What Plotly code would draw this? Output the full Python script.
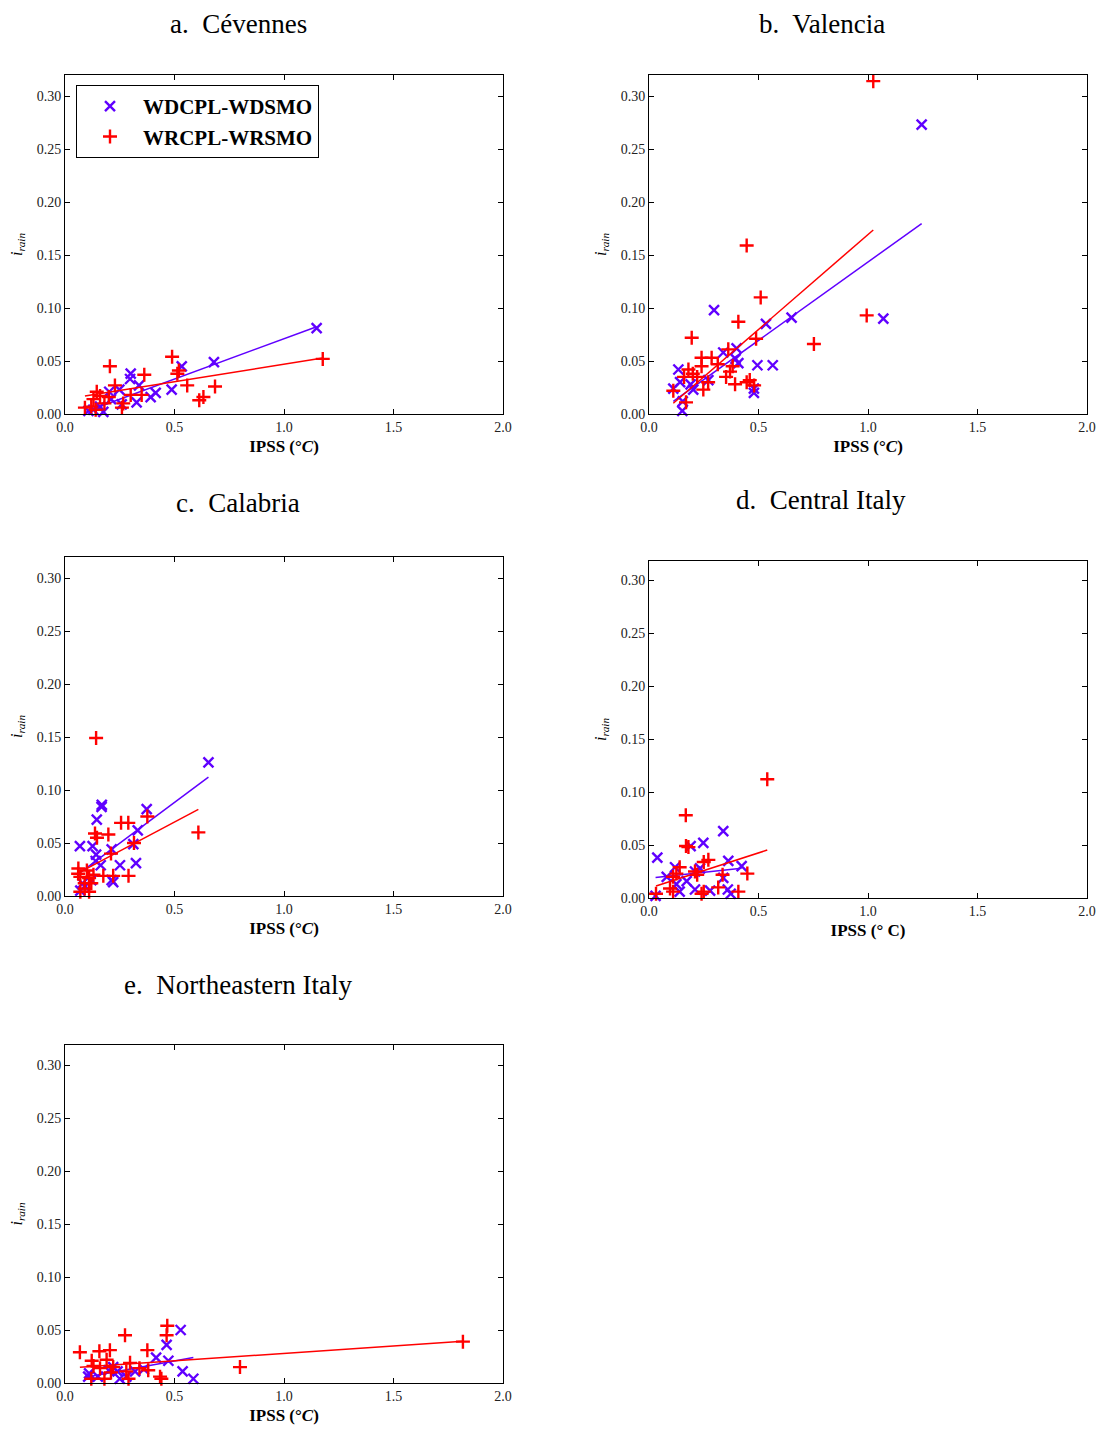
import plotly.graph_objects as go

# ---------------- data ----------------
panel_titles = ["a.  Cévennes", "b.  Valencia", "c.  Calabria", "d.  Central Italy", "e.  Northeastern Italy"]
xlabels = ["IPSS (°<i>C</i>)", "IPSS (°<i>C</i>)", "IPSS (°<i>C</i>)", "IPSS (° C)", "IPSS (°<i>C</i>)"]
series_names = ["WDCPL-WDSMO", "WRCPL-WRSMO"]
x_ticks = [0.0, 0.5, 1.0, 1.5, 2.0]
y_ticks = [0.00, 0.05, 0.10, 0.15, 0.20, 0.25, 0.30]

# a. Cevennes
a_blue_x = [1.149, 0.680, 0.533, 0.487, 0.414, 0.391, 0.338, 0.300, 0.297, 0.327, 0.248, 0.202, 0.160, 0.129, 0.175, 0.259, 0.210, 0.107]
a_blue_y = [0.081, 0.049, 0.045, 0.023, 0.020, 0.016, 0.027, 0.038, 0.033, 0.011, 0.023, 0.021, 0.007, 0.004, 0.002, 0.009, 0.014, 0.003]
a_red_x = [1.177, 0.489, 0.513, 0.520, 0.558, 0.685, 0.632, 0.613, 0.362, 0.205, 0.228, 0.350, 0.300, 0.266, 0.260, 0.145, 0.160, 0.130, 0.091, 0.120, 0.180, 0.200, 0.140]
a_red_y = [0.052, 0.054, 0.038, 0.041, 0.027, 0.026, 0.016, 0.013, 0.037, 0.045, 0.027, 0.018, 0.018, 0.010, 0.006, 0.021, 0.017, 0.014, 0.006, 0.007, 0.010, 0.016, 0.004]

# b. Valencia
b_blue_x = [1.245, 1.070, 0.651, 0.534, 0.297, 0.495, 0.565, 0.400, 0.339, 0.395, 0.408, 0.479, 0.479, 0.134, 0.142, 0.111, 0.202, 0.190, 0.271, 0.154, 0.152]
b_blue_y = [0.273, 0.090, 0.091, 0.085, 0.098, 0.046, 0.046, 0.062, 0.058, 0.052, 0.048, 0.024, 0.020, 0.042, 0.030, 0.024, 0.023, 0.028, 0.032, 0.012, 0.003]
b_red_x = [1.024, 0.446, 0.510, 0.408, 0.195, 0.489, 0.994, 0.753, 0.362, 0.240, 0.286, 0.314, 0.240, 0.382, 0.370, 0.352, 0.180, 0.200, 0.160, 0.220, 0.270, 0.393, 0.446, 0.460, 0.480, 0.248, 0.111, 0.169]
b_red_y = [0.314, 0.159, 0.110, 0.087, 0.072, 0.071, 0.093, 0.066, 0.061, 0.053, 0.053, 0.047, 0.045, 0.045, 0.040, 0.035, 0.042, 0.038, 0.035, 0.035, 0.030, 0.028, 0.030, 0.032, 0.027, 0.023, 0.022, 0.011]

# c. Calabria
c_blue_x = [0.655, 0.167, 0.168, 0.373, 0.145, 0.332, 0.068, 0.126, 0.312, 0.213, 0.142, 0.163, 0.251, 0.324, 0.213, 0.220, 0.080, 0.070, 0.090, 0.120, 0.140]
c_blue_y = [0.126, 0.084, 0.086, 0.082, 0.072, 0.062, 0.047, 0.047, 0.049, 0.044, 0.039, 0.029, 0.029, 0.031, 0.015, 0.013, 0.012, 0.005, 0.009, 0.015, 0.033]
c_red_x = [0.142, 0.376, 0.256, 0.289, 0.609, 0.137, 0.198, 0.146, 0.315, 0.210, 0.061, 0.100, 0.130, 0.175, 0.220, 0.290, 0.070, 0.110, 0.090, 0.120, 0.070, 0.110, 0.090, 0.060]
c_red_y = [0.149, 0.075, 0.069, 0.069, 0.060, 0.059, 0.058, 0.055, 0.050, 0.040, 0.026, 0.024, 0.020, 0.019, 0.019, 0.019, 0.018, 0.017, 0.012, 0.012, 0.004, 0.004, 0.007, 0.021]

# d. Central Italy
d_blue_x = [0.339, 0.248, 0.190, 0.038, 0.362, 0.423, 0.119, 0.233, 0.210, 0.081, 0.339, 0.172, 0.125, 0.210, 0.279, 0.360, 0.373, 0.140, 0.030]
d_blue_y = [0.063, 0.052, 0.049, 0.038, 0.035, 0.030, 0.029, 0.028, 0.025, 0.020, 0.019, 0.016, 0.013, 0.008, 0.007, 0.008, 0.004, 0.006, 0.002]
d_red_x = [0.540, 0.168, 0.169, 0.180, 0.271, 0.250, 0.449, 0.336, 0.140, 0.210, 0.220, 0.110, 0.125, 0.316, 0.096, 0.110, 0.408, 0.250, 0.240, 0.032]
d_red_y = [0.112, 0.078, 0.049, 0.048, 0.036, 0.034, 0.023, 0.022, 0.029, 0.025, 0.022, 0.020, 0.023, 0.010, 0.009, 0.006, 0.006, 0.006, 0.004, 0.004]

# e. Northeastern Italy
e_blue_x = [0.528, 0.464, 0.416, 0.472, 0.537, 0.586, 0.220, 0.240, 0.110, 0.320, 0.360, 0.200, 0.150, 0.280, 0.250, 0.106]
e_blue_y = [0.050, 0.036, 0.024, 0.021, 0.011, 0.004, 0.015, 0.011, 0.009, 0.011, 0.013, 0.012, 0.006, 0.006, 0.004, 0.006]
e_red_x = [1.817, 0.799, 0.467, 0.464, 0.274, 0.068, 0.157, 0.205, 0.376, 0.122, 0.190, 0.297, 0.130, 0.160, 0.220, 0.340, 0.380, 0.280, 0.210, 0.434, 0.440, 0.120, 0.290, 0.180]
e_red_y = [0.039, 0.015, 0.054, 0.045, 0.045, 0.029, 0.030, 0.031, 0.031, 0.021, 0.022, 0.019, 0.016, 0.014, 0.015, 0.014, 0.012, 0.011, 0.010, 0.006, 0.004, 0.004, 0.004, 0.004]

# linear fits (slope, intercept)
blue_fit_slope = [0.076, 0.148, 0.154, 0.022, 0.0375]
blue_fit_icpt = [-0.005, -0.0046, 0.0113, 0.0187, 0.002]
red_fit_slope = [0.033, 0.179, 0.1096, 0.0667, 0.0141]
red_fit_icpt = [0.014, -0.0097, 0.015, 0.0092, 0.0138]

panels = [
    (a_blue_x, a_blue_y, a_red_x, a_red_y),
    (b_blue_x, b_blue_y, b_red_x, b_red_y),
    (c_blue_x, c_blue_y, c_red_x, c_red_y),
    (d_blue_x, d_blue_y, d_red_x, d_red_y),
    (e_blue_x, e_blue_y, e_red_x, e_red_y),
]

# ---------------- layout ----------------
OFF = 8  # page body margin
W, H = 1107 - OFF, 1430 - OFF
BLUE = "#6000ff"
RED = "#ff0000"
FONT = "Liberation Serif"

# panel boxes in page pixels: (left, right, top, bottom)
boxes = [(65, 503, 75, 414), (649, 1087, 75, 414), (65, 503, 557, 896),
         (649, 1087, 561, 898), (65, 503, 1045, 1383)]
title_pos = [(238, 20), (822, 20), (238, 503), (821, 500), (238, 985)]


def px(x):
    return (x - OFF) / W


def py(y):
    return 1 - (y - OFF) / H


fig = go.Figure()
annotations = []
for i, (bx, by, rx, ry) in enumerate(panels):
    n = "" if i == 0 else str(i + 1)
    xa, ya = "x" + n, "y" + n
    L, R, T, B = boxes[i]
    ytop = (B - T) / 1060.0
    fig.update_layout(**{
        "xaxis" + n: dict(domain=[px(L), px(R)], anchor=ya, range=[0, 2.0], automargin=False,
                          tickvals=x_ticks, ticktext=[f"{v:.1f}" for v in x_ticks],
                          ticks="inside", ticklen=5, tickcolor="black", mirror="allticks",
                          showline=True, linecolor="black", linewidth=1, showgrid=False,
                          zeroline=False, tickfont=dict(family=FONT, size=14, color="#222"),
                          title=dict(text="<b>" + xlabels[i] + "</b>", standoff=6,
                                     font=dict(family=FONT, size=17, color="black"))),
        "yaxis" + n: dict(domain=[py(B), py(T)], anchor=xa, range=[0, ytop], automargin=False,
                          tickvals=y_ticks, ticktext=[f"{v:.2f}" for v in y_ticks],
                          ticks="inside", ticklen=5, tickcolor="black", mirror="allticks",
                          showline=True, linecolor="black", linewidth=1, showgrid=False,
                          zeroline=False, tickfont=dict(family=FONT, size=14, color="#222"),
                          title=dict(text="<i>i</i><sub><i>rain</i></sub>", standoff=10,
                                     font=dict(family=FONT, size=16, color="black"))),
    })
    for (xs, ys, col, sym, name, slope, icpt) in [
        (bx, by, BLUE, "x-thin", series_names[0], blue_fit_slope[i], blue_fit_icpt[i]),
        (rx, ry, RED, "cross-thin", series_names[1], red_fit_slope[i], red_fit_icpt[i]),
    ]:
        fig.add_trace(go.Scatter(
            x=xs, y=ys, mode="markers", xaxis=xa, yaxis=ya, name="<b>" + name + "</b>",
            showlegend=(i == 0), cliponaxis=False,
            marker=dict(symbol=sym, size=10, color=col, line=dict(color=col, width=2.4))))
        x0, x1 = min(xs), max(xs)
        fig.add_trace(go.Scatter(
            x=[x0, x1], y=[slope * x0 + icpt, slope * x1 + icpt], mode="lines",
            xaxis=xa, yaxis=ya, showlegend=False, hoverinfo="skip",
            line=dict(color=col, width=1.5)))
    tx, ty = title_pos[i]
    if i < 2:
        ann_y, ann_anchor = 1.0, "top"
    else:
        ann_y, ann_anchor = py(ty), "middle"
    annotations.append(dict(text=panel_titles[i], x=px(tx), y=ann_y, xref="paper", yref="paper",
                            showarrow=False, xanchor="center", yanchor=ann_anchor, borderpad=0,
                            font=dict(family=FONT, size=27, color="black")))

fig.update_layout(
    width=W, height=H, margin=dict(l=0, r=0, t=0, b=0, autoexpand=False),
    paper_bgcolor="white", plot_bgcolor="white",
    annotations=annotations,
    legend=dict(x=px(76), y=py(85), xanchor="left", yanchor="top",
                bordercolor="black", borderwidth=1, bgcolor="white",
                font=dict(family=FONT, size=21, color="black"), itemwidth=56,
                tracegroupgap=0),
)
fig.write_html("out.html")
